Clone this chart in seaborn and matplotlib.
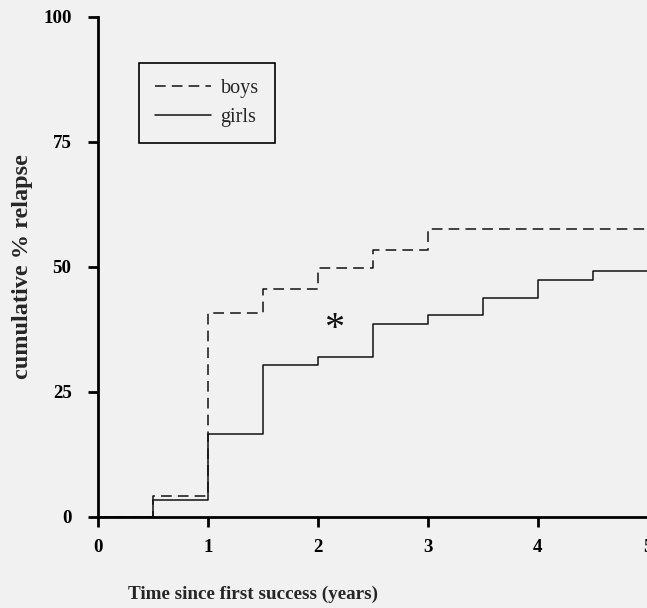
import matplotlib
matplotlib.use("Agg")
import matplotlib.pyplot as plt
import seaborn as sns
import pandas as pd

# Data
times = [0, 0.5, 1, 1.5, 2, 2.5, 3, 3.5, 4, 4.5, 5]
boys = [0, 4.1, 40.7, 45.5, 49.7, 53.4, 57.5, 57.5, 57.5, 57.5, 57.5]
girls = [0, 3.3, 16.6, 30.4, 31.9, 38.6, 40.3, 43.8, 47.4, 49.2, 49.2]
groups = ["boys", "girls"]
x_ticks = [0, 1, 2, 3, 4, 5]
y_ticks = [0, 25, 50, 75, 100]

df = pd.DataFrame({
    "time": times * 2,
    "relapse": boys + girls,
    "sex": [groups[0]] * len(times) + [groups[1]] * len(times),
})

sns.set_theme(style="ticks")
serif = ["Liberation Serif", "DejaVu Serif"]
plt.rcParams["font.family"] = serif

bg = "#f1f1f1"
fig = plt.figure(figsize=(6.47, 6.08), dpi=100, facecolor=bg)
ax = fig.add_axes([0.1515, 0.1497, 0.850, 0.8224])
ax.set_facecolor(bg)

sns.lineplot(data=df, x="time", y="relapse", style="sex", estimator=None,
             dashes={"boys": (7, 4), "girls": ""}, color="#111111",
             linewidth=1.1, drawstyle="steps-post", ax=ax, legend=True)

ax.set_xlim(0, 5)
ax.set_ylim(0, 100)
ax.set_xticks(x_ticks)
ax.set_yticks(y_ticks)
ax.set_xticklabels([str(t) for t in x_ticks], fontweight="bold", fontsize=13.6)
ax.set_yticklabels([str(t) for t in y_ticks], fontweight="bold", fontsize=13.6)

for s in ["top", "right"]:
    ax.spines[s].set_visible(False)
for s in ["left", "bottom"]:
    ax.spines[s].set_linewidth(2.0)
    ax.spines[s].set_color("black")
    ax.spines[s].set_clip_on(False)
ax.tick_params(axis="y", length=7.5, width=2.0, pad=11.5, colors="black")
ax.tick_params(axis="x", length=7.5, width=2.0, pad=8.5, colors="black")

ax.set_xlabel("Time since first success (years)", fontweight="bold", fontsize=13.8)
ax.set_ylabel("cumulative % relapse", fontweight="bold", fontsize=17.5)
ax.xaxis.set_label_coords(0.282, -0.137)
ax.yaxis.set_label_coords(-0.118, 0.5)

ax.text(2.145, 37.4, "*", fontsize=29, ha="center", va="center", color="#111111")

leg = ax.legend(loc="upper left", bbox_to_anchor=(0.0745, 0.908), borderaxespad=0,
                frameon=True, fancybox=False, edgecolor="black", facecolor=bg,
                handlelength=2.8, handletextpad=0.45, borderpad=0.8,
                labelspacing=0.5, title=None,
                prop={"family": serif, "size": 14.5})
leg.get_frame().set_linewidth(1.2)
leg.get_frame().set_alpha(1)

fig.savefig("out.png", dpi=100, facecolor=bg)
